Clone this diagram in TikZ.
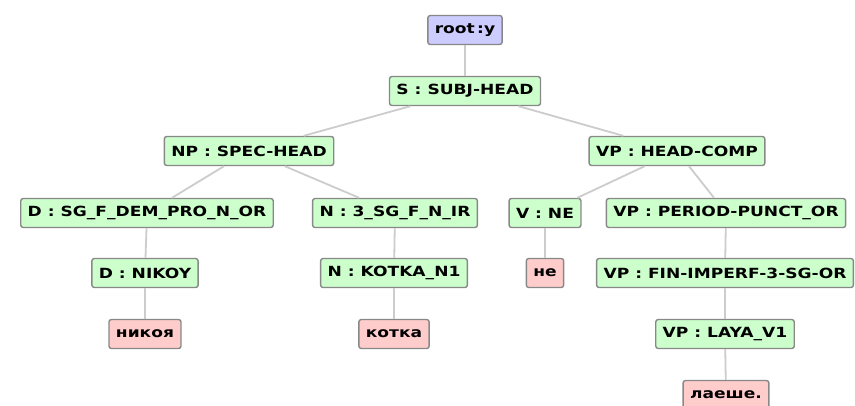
\documentclass[tikz,border=0pt]{standalone}
\usepackage{fontspec}
\setmainfont{DejaVu Sans}[FakeStretch=1.22]
\usetikzlibrary{positioning}

\definecolor{phrasegreen}{HTML}{CCFFCC}
\definecolor{rootblue}{HTML}{CCCCFF}
\definecolor{wordpink}{HTML}{FFCCCC}
\definecolor{boxgray}{HTML}{888888}
\definecolor{linkgray}{HTML}{CCCCCC}

\begin{document}
\begin{tikzpicture}[x=1pt, y=-1pt]
			\tikzset {every node/.style={draw=boxgray, line width=1.4pt, rounded corners=2.5pt, font=\bfseries\fontsize{14}{16}\selectfont, minimum height=29pt, inner xsep=7pt, inner ysep=0pt},
				phrase/.style={fill=phrasegreen}, rootbox/.style={fill=rootblue}, word/.style={fill=wordpink},
				link/.style={draw=linkgray, line width=1.8pt} }
			\useasboundingbox (0,0) rectangle (855,405);
			
			\node[rootbox] (root) at (465,30) {root\,:y};
			\node[phrase] (s) at (465,91) {S : SUBJ-HEAD};
			\node[phrase] (np) at (249,151) {NP : SPEC-HEAD};
			\node[phrase] (vp) at (677,151) {VP : HEAD-COMP};
			\node[phrase] (d) at (147,213) {D : SG\_F\_DEM\_PRO\_N\_OR};
			\node[phrase] (n) at (395,213) {N : 3\_SG\_F\_N\_IR};
			\node[phrase] (v) at (545,213) {V : NE};
			\node[phrase] (vpp) at (726,213) {VP : PERIOD-PUNCT\_OR};
			\node[phrase] (dnikoy) at (145,273) {D : NIKOY};
			\node[phrase] (nkotka) at (394,273) {N : KOTKA\_N1};
			\node[word] (ne) at (545,273) {не};
			\node[phrase] (vpfin) at (725,273) {VP : FIN-IMPERF-3-SG-OR};
			\node[word] (nikoya) at (145,334) {никоя};
			\node[word] (kotka) at (394,334) {котка};
			\node[phrase] (vplaya) at (725,334) {VP : LAYA\_V1};
			\node[word] (laeshe) at (726,395) {лаеше.};
			
			\draw[link]
				(root) -- (s)
				(s) -- (np)
				(s) -- (vp)
				(np) -- (d)
				(np) -- (n)
				(vp) -- (v)
				(vp) -- (vpp)
				(d) -- (dnikoy)
				(n) -- (nkotka)
				(v) -- (ne)
				(vpp) -- (vpfin)
				(dnikoy) -- (nikoya)
				(nkotka) -- (kotka)
				(vpfin) -- (vplaya)
				(vplaya) -- (laeshe);
		\end{tikzpicture}
\end{document}
